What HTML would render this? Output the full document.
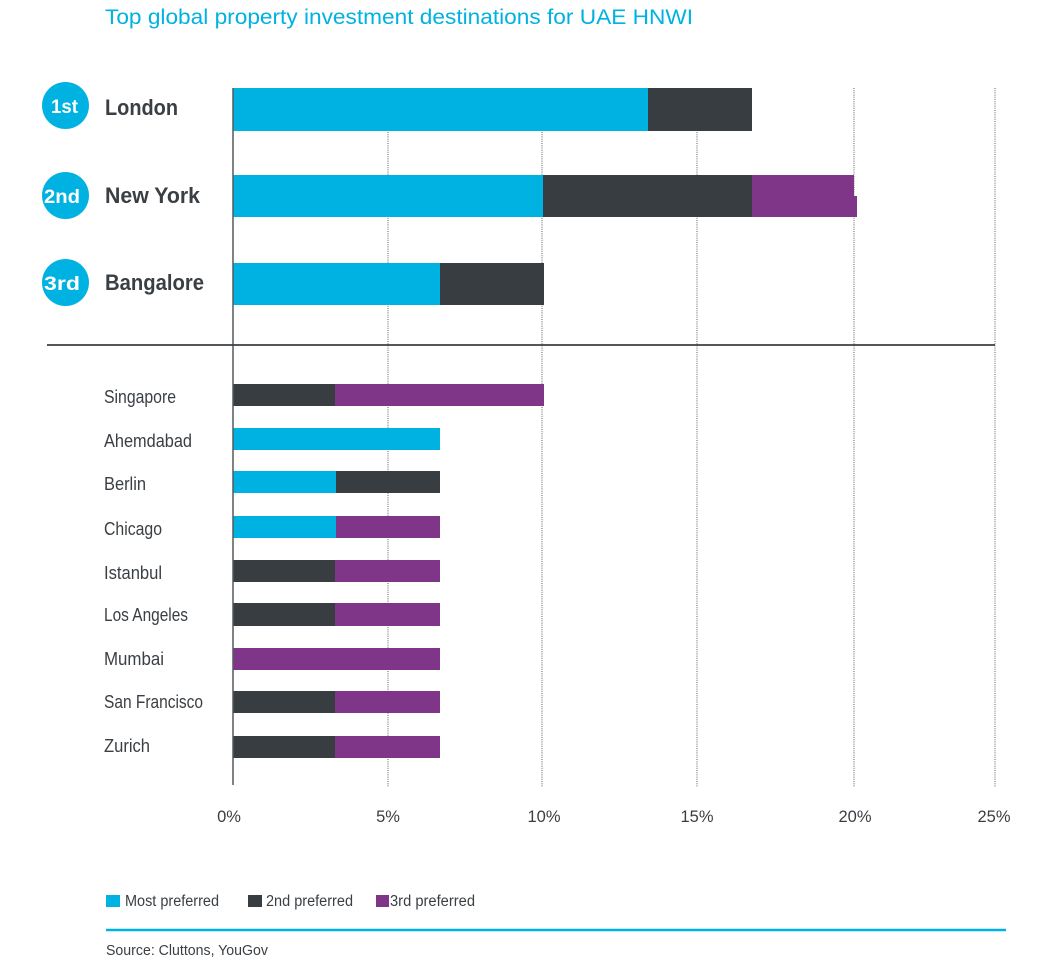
<!DOCTYPE html>
<html><head><meta charset="utf-8">
<style>
html,body{margin:0;padding:0;background:#fff;}
svg{display:block;}
text{font-family:"Liberation Sans",sans-serif;}
</style></head>
<body>
<svg width="1062" height="970" viewBox="0 0 1062 970" xmlns="http://www.w3.org/2000/svg">
<rect width="1062" height="970" fill="#fff"/>
<text x="105" y="24" font-size="21" fill="#00b2e2" textLength="588" lengthAdjust="spacingAndGlyphs">Top global property investment destinations for UAE HNWI</text>

<!-- gridlines -->
<g stroke="#7a7a7a" stroke-width="1.2" stroke-dasharray="1,1.2">
<line x1="388" y1="88" x2="388" y2="787"/>
<line x1="542" y1="88" x2="542" y2="787"/>
<line x1="697" y1="88" x2="697" y2="787"/>
<line x1="854" y1="88" x2="854" y2="787"/>
<line x1="995" y1="88" x2="995" y2="787"/>
</g>

<!-- top bars -->
<rect x="233" y="88" width="415" height="43" fill="#00b2e2"/>
<rect x="648" y="88" width="104" height="43" fill="#373d40"/>
<rect x="233" y="175" width="310" height="42" fill="#00b2e2"/>
<rect x="543" y="175" width="209" height="42" fill="#373d40"/>
<rect x="752" y="175" width="102" height="42" fill="#7f3689"/>
<rect x="853" y="196" width="4" height="21" fill="#7f3689"/>
<rect x="233" y="263" width="207" height="42" fill="#00b2e2"/>
<rect x="440" y="263" width="104" height="42" fill="#373d40"/>

<!-- small bars -->
<g>
<rect x="233" y="384" width="102" height="22" fill="#373d40"/><rect x="335" y="384" width="209" height="22" fill="#7f3689"/>
<rect x="233" y="428" width="207" height="22" fill="#00b2e2"/>
<rect x="233" y="471" width="103" height="22" fill="#00b2e2"/><rect x="336" y="471" width="104" height="22" fill="#373d40"/>
<rect x="233" y="516" width="103" height="22" fill="#00b2e2"/><rect x="336" y="516" width="104" height="22" fill="#7f3689"/>
<rect x="233" y="560" width="102" height="22" fill="#373d40"/><rect x="335" y="560" width="105" height="22" fill="#7f3689"/>
<rect x="233" y="603" width="102" height="23" fill="#373d40"/><rect x="335" y="603" width="105" height="23" fill="#7f3689"/>
<rect x="233" y="648" width="207" height="22" fill="#7f3689"/>
<rect x="233" y="691" width="102" height="22" fill="#373d40"/><rect x="335" y="691" width="105" height="22" fill="#7f3689"/>
<rect x="233" y="736" width="102" height="22" fill="#373d40"/><rect x="335" y="736" width="105" height="22" fill="#7f3689"/>
</g>

<!-- axis and divider -->
<line x1="233" y1="88" x2="233" y2="785" stroke="#555a5e" stroke-width="1.5"/>
<line x1="47" y1="345" x2="995" y2="345" stroke="#3a3f44" stroke-width="1.8"/>

<!-- badges -->
<g fill="#00b2e2">
<circle cx="65.5" cy="105.5" r="23.5"/>
<circle cx="65.5" cy="195.5" r="23.5"/>
<circle cx="65.5" cy="282.5" r="23.5"/>
</g>
<g fill="#fff" font-weight="bold" font-size="19">
<text x="51" y="113" textLength="27" lengthAdjust="spacingAndGlyphs">1st</text>
<text x="44" y="203" textLength="36" lengthAdjust="spacingAndGlyphs">2nd</text>
<text x="44" y="290" textLength="36" lengthAdjust="spacingAndGlyphs">3rd</text>
</g>
<g fill="#3a3f44" font-weight="bold" font-size="22">
<text x="105" y="115" textLength="73" lengthAdjust="spacingAndGlyphs">London</text>
<text x="105" y="203" textLength="95" lengthAdjust="spacingAndGlyphs">New York</text>
<text x="105" y="290" textLength="99" lengthAdjust="spacingAndGlyphs">Bangalore</text>
</g>

<g fill="#3a3f44" font-size="18">
<text x="104" y="403" textLength="72" lengthAdjust="spacingAndGlyphs">Singapore</text>
<text x="104" y="447" textLength="88" lengthAdjust="spacingAndGlyphs">Ahemdabad</text>
<text x="104" y="490" textLength="42" lengthAdjust="spacingAndGlyphs">Berlin</text>
<text x="104" y="535" textLength="58" lengthAdjust="spacingAndGlyphs">Chicago</text>
<text x="104" y="579" textLength="58" lengthAdjust="spacingAndGlyphs">Istanbul</text>
<text x="104" y="621" textLength="84" lengthAdjust="spacingAndGlyphs">Los Angeles</text>
<text x="104" y="665" textLength="60" lengthAdjust="spacingAndGlyphs">Mumbai</text>
<text x="104" y="708" textLength="99" lengthAdjust="spacingAndGlyphs">San Francisco</text>
<text x="104" y="752" textLength="46" lengthAdjust="spacingAndGlyphs">Zurich</text>
</g>

<g fill="#3a3f44" font-size="16.5" text-anchor="middle">
<text x="229" y="822">0%</text>
<text x="388" y="822">5%</text>
<text x="544" y="822">10%</text>
<text x="697" y="822">15%</text>
<text x="855" y="822">20%</text>
<text x="994" y="822">25%</text>
</g>

<!-- legend -->
<rect x="106" y="895" width="14" height="12" fill="#00b2e2"/>
<rect x="248" y="895" width="14" height="12" fill="#373d40"/>
<rect x="376" y="895" width="13" height="12" fill="#7f3689"/>
<g fill="#3a3f44" font-size="15.5">
<text x="125" y="906" textLength="94" lengthAdjust="spacingAndGlyphs">Most preferred</text>
<text x="266" y="906" textLength="87" lengthAdjust="spacingAndGlyphs">2nd preferred</text>
<text x="390" y="906" textLength="85" lengthAdjust="spacingAndGlyphs">3rd preferred</text>
</g>
<line x1="106" y1="930" x2="1006" y2="930" stroke="#00b2e2" stroke-width="2.5"/>
<text x="106" y="955" font-size="14.5" fill="#3a3f44" textLength="162" lengthAdjust="spacingAndGlyphs">Source: Cluttons, YouGov</text>
</svg>
</body></html>
